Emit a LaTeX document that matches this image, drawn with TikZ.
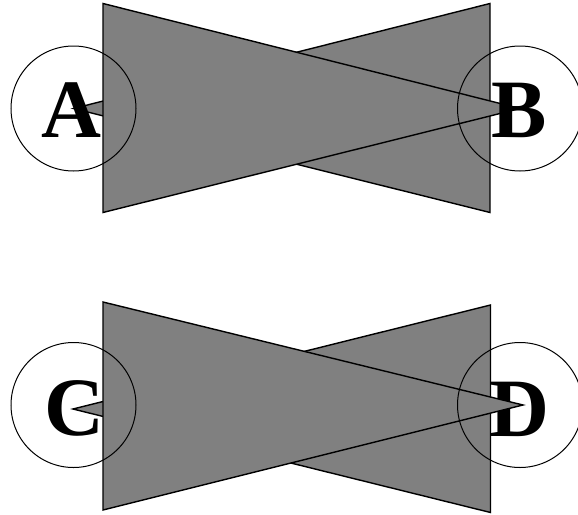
\documentclass[tikz,border=0pt]{standalone}
\usepackage{fontspec}
\setmainfont{Liberation Serif}
\usetikzlibrary{positioning}
\tikzset{ring/.style={circle, draw, line width=1pt, minimum size=125pt, inner sep=0pt},
letter/.style={inner sep=0pt, font=\fontsize{83}{83}\selectfont\bfseries},
wedge/.style={draw, fill=gray, line width=1.4pt, line join=miter}}

\begin{document}
\begin{tikzpicture}[x=1pt, y=-1pt]
	\useasboundingbox (0,0) rectangle (578,514);
	% upper pair: letters lie above the wedges
	\coordinate (pA) at (73.5,108.5);
	\coordinate (pB) at (520,108.5);
	\coordinate (wa1) at (490,3.5);
	\coordinate (wa2) at (490,212.5);
	\coordinate (wb1) at (103,3.5);
	\coordinate (wb2) at (103,212.5);
	\draw[wedge] (wa1) -- (wa2) -- (pA) -- cycle;
	\draw[wedge] (wb1) -- (wb2) -- (pB) -- cycle;
	\node[letter] (tA) at (71.5,110.5) {A};
	\node[letter] (tB) at (519.5,110.5) {B};
	\node[ring] (A) at (pA) {};
	\node[ring] (B) at (pB) {};
	% lower pair: wedges lie above the letters
	\coordinate (pC) at (73.5,405);
	\coordinate (pD) at (520,405);
	\node[letter] (tC) at (74,408.5) {C};
	\node[letter] (tD) at (519,409) {D};
	\coordinate (wc1) at (490.5,305);
	\coordinate (wc2) at (490.5,512.5);
	\coordinate (wd1) at (103,302);
	\coordinate (wd2) at (103,510);
	\coordinate (tipC) at (73,409);
	\coordinate (tipD) at (523,405);
	\draw[wedge] (wc1) -- (wc2) -- (tipC) -- cycle;
	\draw[wedge] (wd1) -- (wd2) -- (tipD) -- cycle;
	\node[ring] (C) at (pC) {};
	\node[ring] (D) at (pD) {};
\end{tikzpicture}
\end{document}
